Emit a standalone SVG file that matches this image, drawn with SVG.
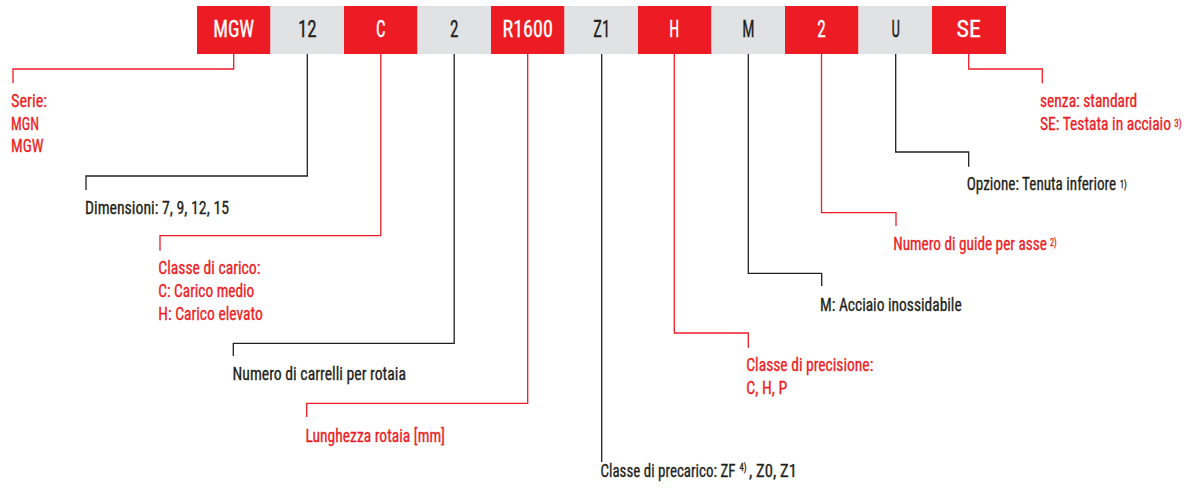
<svg xmlns="http://www.w3.org/2000/svg" width="1190" height="492" viewBox="0 0 1190 492">
<style>
.red{fill:#ED1C24}
.grey{fill:#E1E2E4}
.bt{font-family:"Liberation Sans Narrow","Roboto Condensed","DejaVu Sans Condensed","Liberation Sans",sans-serif;font-size:24px;text-anchor:middle;stroke-width:0.3}
.bw{fill:#FFFFFF;stroke:#FFFFFF}
.bk{fill:#231F20;stroke:#231F20}
.t{font-family:"Liberation Sans Narrow","Roboto Condensed","DejaVu Sans Condensed","Liberation Sans",sans-serif;font-size:18px;stroke-width:0.3}
.sup{font-size:10px}
.tr{fill:#ED1C24;stroke:#ED1C24}
.tk{fill:#231F20;stroke:#231F20}
.cr{fill:none;stroke:#ED1C24;stroke-width:1.3}
.ck{fill:none;stroke:#231F20;stroke-width:1.3}
</style>
<rect width="1190" height="492" fill="#FFFFFF"/>
<g id="connectors">
<path class="cr" d="M233.7 54V69H13V83"/>
<path class="ck" d="M307.3 54V176H86V190"/>
<path class="cr" d="M380.8 54V235.7H160V250.7"/>
<path class="ck" d="M454.2 54V343.3H233.3V356"/>
<path class="cr" d="M527.7 54V403.3H306.7V417"/>
<path class="ck" d="M601.7 54V462"/>
<path class="cr" d="M674.3 54V333H748.3V347.7"/>
<path class="ck" d="M748.3 54V273.3H821.7V286"/>
<path class="cr" d="M821.5 54V212.7H896V226"/>
<path class="ck" d="M895.7 54V152H968.7V166.7"/>
<path class="cr" d="M968.7 54V69H1042.3V83.3"/>
</g>
<g id="node-serie">
<rect class="red" x="197" y="6" width="73.5" height="48"/>
<text class="bt bw" x="233.7" y="37.3" textLength="41" lengthAdjust="spacingAndGlyphs">MGW</text>
<text class="t tr" x="11" y="106.7" textLength="36" lengthAdjust="spacingAndGlyphs">Serie:</text>
<text class="t tr" x="11" y="129.5" textLength="28" lengthAdjust="spacingAndGlyphs">MGN</text>
<text class="t tr" x="11" y="152.3" textLength="32.5" lengthAdjust="spacingAndGlyphs">MGW</text>
</g>
<g id="node-dimensioni">
<rect class="grey" x="270.5" y="6" width="73.5" height="48"/>
<text class="bt bk" x="307.3" y="37.3" textLength="18.7" lengthAdjust="spacingAndGlyphs">12</text>
<text class="t tk" x="85" y="214" textLength="144" lengthAdjust="spacingAndGlyphs">Dimensioni: 7, 9, 12, 15</text>
</g>
<g id="node-carico">
<rect class="red" x="344" y="6" width="73.5" height="48"/>
<text class="bt bw" x="380.8" y="37.3" textLength="9.5" lengthAdjust="spacingAndGlyphs">C</text>
<text class="t tr" x="158.3" y="274" textLength="102" lengthAdjust="spacingAndGlyphs">Classe di carico:</text>
<text class="t tr" x="158.3" y="296.8" textLength="96" lengthAdjust="spacingAndGlyphs">C: Carico medio</text>
<text class="t tr" x="158.3" y="319.8" textLength="104.5" lengthAdjust="spacingAndGlyphs">H: Carico elevato</text>
</g>
<g id="node-carrelli">
<rect class="grey" x="417.5" y="6" width="73.5" height="48"/>
<text class="bt bk" x="454.2" y="37.3" textLength="8.5" lengthAdjust="spacingAndGlyphs">2</text>
<text class="t tk" x="232.5" y="380" textLength="173.5" lengthAdjust="spacingAndGlyphs">Numero di carrelli per rotaia</text>
</g>
<g id="node-lunghezza">
<rect class="red" x="491" y="6" width="73.5" height="48"/>
<text class="bt bw" x="527.7" y="37.3" textLength="50.3" lengthAdjust="spacingAndGlyphs">R1600</text>
<text class="t tr" x="305.5" y="441.7" textLength="139.5" lengthAdjust="spacingAndGlyphs">Lunghezza rotaia [mm]</text>
</g>
<g id="node-precarico">
<rect class="grey" x="564.5" y="6" width="73.5" height="48"/>
<text class="bt bk" x="601.7" y="37.3" textLength="17" lengthAdjust="spacingAndGlyphs">Z1</text>
<text class="t tk"><tspan x="600.5" y="477" textLength="135" lengthAdjust="spacingAndGlyphs">Classe di precarico: ZF</tspan><tspan class="sup" x="739.5" y="470.5" textLength="7" lengthAdjust="spacingAndGlyphs">4)</tspan><tspan x="749" y="477" textLength="48" lengthAdjust="spacingAndGlyphs">, Z0, Z1</tspan></text>
</g>
<g id="node-precisione">
<rect class="red" x="638" y="6" width="73.5" height="48"/>
<text class="bt bw" x="674.3" y="37.3" textLength="10" lengthAdjust="spacingAndGlyphs">H</text>
<text class="t tr" x="746.3" y="370.7" textLength="127" lengthAdjust="spacingAndGlyphs">Classe di precisione:</text>
<text class="t tr" x="746.3" y="393.5" textLength="41" lengthAdjust="spacingAndGlyphs">C, H, P</text>
</g>
<g id="node-materiale">
<rect class="grey" x="711.5" y="6" width="73.5" height="48"/>
<text class="bt bk" x="748.3" y="37.3" textLength="12.3" lengthAdjust="spacingAndGlyphs">M</text>
<text class="t tk" x="820" y="310.7" textLength="141.7" lengthAdjust="spacingAndGlyphs">M: Acciaio inossidabile</text>
</g>
<g id="node-guide">
<rect class="red" x="785" y="6" width="73.5" height="48"/>
<text class="bt bw" x="821.5" y="37.3" textLength="8.5" lengthAdjust="spacingAndGlyphs">2</text>
<text class="t tr"><tspan x="893.3" y="249.5" textLength="153.5" lengthAdjust="spacingAndGlyphs">Numero di guide per asse</tspan><tspan class="sup" x="1050" y="246" textLength="6.7" lengthAdjust="spacingAndGlyphs">2)</tspan></text>
</g>
<g id="node-tenuta">
<rect class="grey" x="858.5" y="6" width="73.5" height="48"/>
<text class="bt bk" x="895.7" y="37.3" textLength="8.5" lengthAdjust="spacingAndGlyphs">U</text>
<text class="t tk"><tspan x="966.7" y="190" textLength="149.5" lengthAdjust="spacingAndGlyphs">Opzione: Tenuta inferiore</tspan><tspan class="sup" x="1120" y="188" textLength="6.7" lengthAdjust="spacingAndGlyphs">1)</tspan></text>
</g>
<g id="node-testata">
<rect class="red" x="932" y="6" width="74" height="48"/>
<text class="bt bw" x="968.7" y="37.3" textLength="24.3" lengthAdjust="spacingAndGlyphs">SE</text>
<text class="t tr" x="1040" y="106.7" textLength="97.3" lengthAdjust="spacingAndGlyphs">senza: standard</text>
<text class="t tr"><tspan x="1040" y="129.5" textLength="131" lengthAdjust="spacingAndGlyphs">SE: Testata in acciaio</tspan><tspan class="sup" x="1174.3" y="127.3" textLength="7.4" lengthAdjust="spacingAndGlyphs">3)</tspan></text>
</g>
</svg>
